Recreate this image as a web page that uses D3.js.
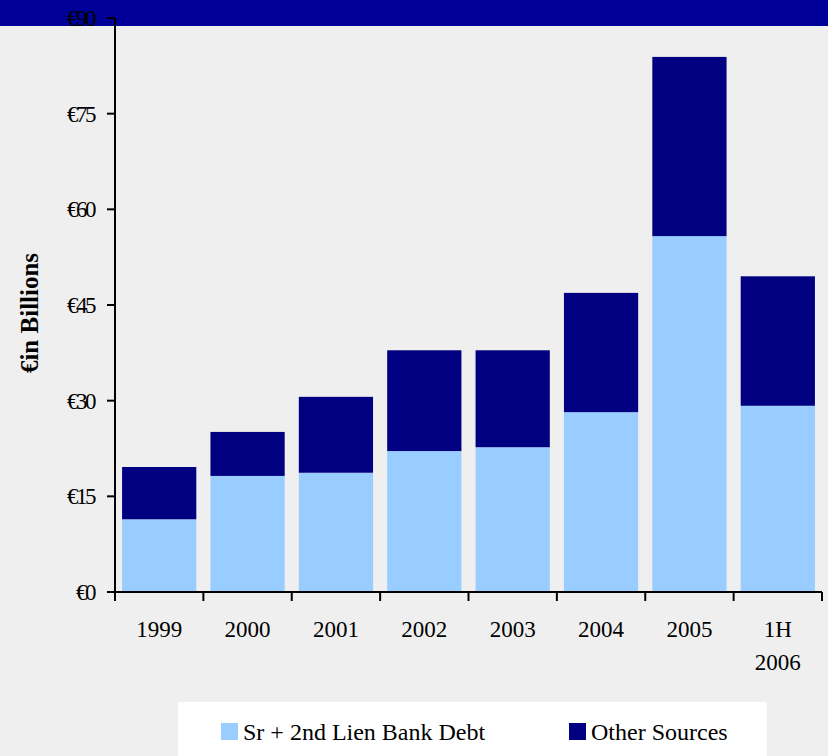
<!DOCTYPE html>
<html>
<head>
<meta charset="utf-8">
<script src="https://cdn.jsdelivr.net/npm/d3@7"></script>
<style>
  html, body { margin: 0; padding: 0; background: #efefef; }
  svg { display: block; }
  text { font-family: "Liberation Serif", "Times New Roman", serif; fill: #000; }
</style>
</head>
<body>
<svg id="chart" width="828" height="756"></svg>
<script>
// Data
const categories = ["1999", "2000", "2001", "2002", "2003", "2004", "2005", "1H 2006"];
const bankDebt   = [11.4, 18.2, 18.7, 22.1, 22.7, 28.2, 55.8, 29.2];
const otherSrc   = [8.2, 6.9, 11.9, 15.8, 15.2, 18.7, 28.1, 20.3];
const yTicks     = [0, 15, 30, 45, 60, 75, 90];
const seriesNames = ["Sr + 2nd Lien Bank Debt", "Other Sources"];
const colors = ["#99ccff", "#000080"];

const svg = d3.select("#chart");
const W = 828, H = 756;
const mLeft = 115, mRight = 822, mTop = 18, mBottom = 592;

svg.append("rect").attr("width", W).attr("height", H).attr("fill", "#efefef");
svg.append("rect").attr("x", 0).attr("y", 0).attr("width", W).attr("height", 26).attr("fill", "#000099");

const x = d3.scaleBand().domain(categories).range([mLeft, mRight]).paddingInner(0.16).paddingOuter(0.08);
const y = d3.scaleLinear().domain([0, 90]).range([mBottom, mTop]);

const rows = categories.map((c, i) => ({ cat: c, bank: bankDebt[i], other: otherSrc[i] }));
const stack = d3.stack().keys(["bank", "other"])(rows);

svg.append("g").selectAll("g").data(stack).join("g")
  .attr("fill", (d, i) => colors[i])
  .selectAll("rect").data(d => d).join("rect")
  .attr("x", d => x(d.data.cat))
  .attr("width", x.bandwidth())
  .attr("y", d => y(d[1]))
  .attr("height", d => y(d[0]) - y(d[1]));

// Y axis
const yAxis = svg.append("g");
yAxis.append("line").attr("x1", mLeft).attr("x2", mLeft).attr("y1", y(90)).attr("y2", mBottom + 9)
  .attr("stroke", "#000").attr("stroke-width", 2);
yAxis.selectAll("line.tick").data(yTicks).join("line").attr("class", "tick")
  .attr("x1", mLeft - 8).attr("x2", mLeft).attr("y1", d => y(d)).attr("y2", d => y(d))
  .attr("stroke", "#000").attr("stroke-width", 2);
yAxis.selectAll("text.yl").data(yTicks).join("text").attr("class", "yl")
  .attr("x", 94).attr("y", d => y(d) + 8)
  .attr("text-anchor", "end").attr("font-size", 23)
  .attr("letter-spacing", "-2.5px")
  .text(d => "€" + d);

// X axis
const xAxis = svg.append("g");
xAxis.append("line").attr("x1", mLeft).attr("x2", mRight).attr("y1", mBottom).attr("y2", mBottom)
  .attr("stroke", "#000").attr("stroke-width", 2);
const tickXs = d3.range(categories.length + 1).map(i => mLeft + i * (mRight - mLeft) / categories.length);
xAxis.selectAll("line.xt").data(tickXs.slice(1)).join("line").attr("class", "xt")
  .attr("x1", d => d).attr("x2", d => d).attr("y1", mBottom).attr("y2", mBottom + 9)
  .attr("stroke", "#000").attr("stroke-width", 2);
xAxis.selectAll("text.xl").data(categories).join("text").attr("class", "xl")
  .attr("text-anchor", "middle").attr("font-size", 23)
  .each(function(d) {
    const parts = d.split(" ");
    const t = d3.select(this);
    parts.forEach((p, i) => {
      t.append("tspan").attr("x", x(d) + x.bandwidth() / 2).attr("y", 637 + i * 33).text(p);
    });
  });

// Y title
svg.append("text")
  .attr("transform", "translate(38,313) rotate(-90)")
  .attr("text-anchor", "middle").attr("font-size", 25).attr("font-weight", "bold")
  .text("€in Billions");

// Legend
svg.append("rect").attr("x", 178).attr("y", 702).attr("width", 589).attr("height", 60).attr("fill", "#fff");
const legX = [221, 569];
const leg = svg.append("g").selectAll("g").data(seriesNames).join("g")
  .attr("transform", (d, i) => `translate(${legX[i]},723)`);
leg.append("rect").attr("width", 17).attr("height", 17).attr("fill", (d, i) => colors[i]);
leg.append("text").attr("x", 22).attr("y", 17).attr("font-size", 24).text(d => d);
</script>
</body>
</html>
